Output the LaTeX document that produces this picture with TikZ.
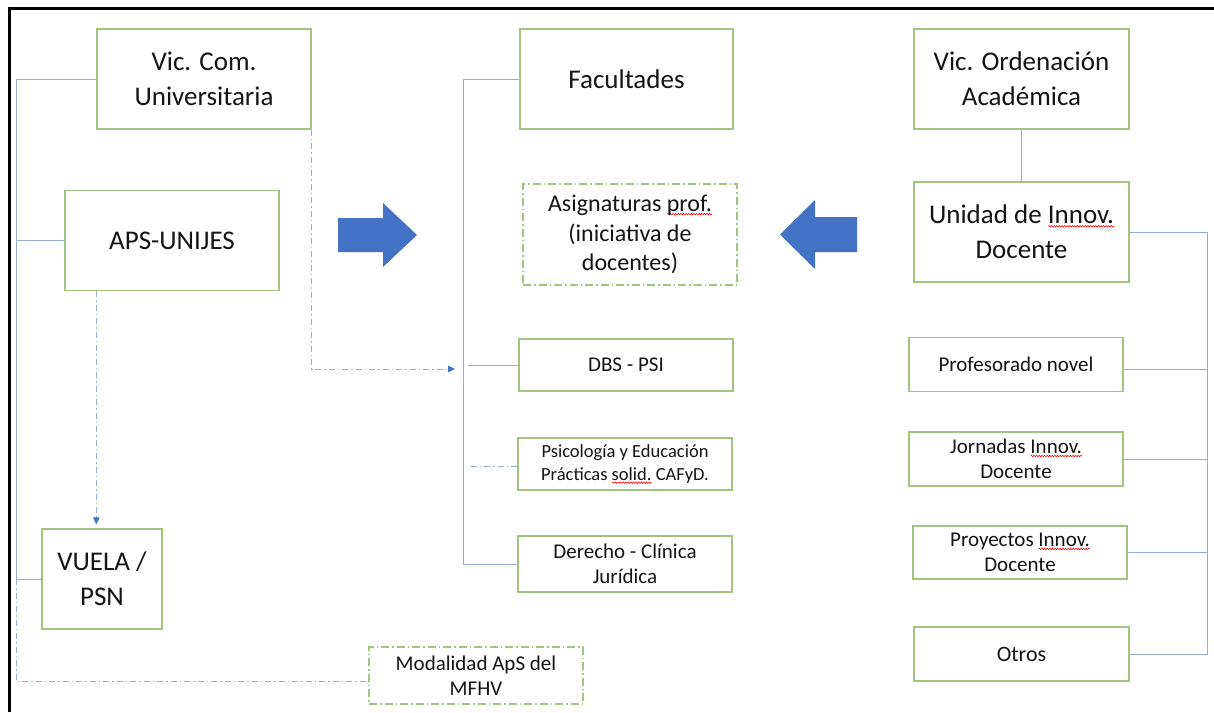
\documentclass[tikz,border=0pt]{standalone}
\usepackage{fontspec}
\setmainfont{Carlito}
\usetikzlibrary{calc,arrows.meta,decorations.pathmorphing}
\definecolor{boxgreen}{RGB}{163,196,125}
\definecolor{linkblue}{RGB}{150,172,214}
\definecolor{arrowblue}{RGB}{68,114,196}
\definecolor{txt}{RGB}{20,20,20}
\newsavebox\wavebox
\newcommand\redwave[1]{\sbox\wavebox{#1}\rlap{\raisebox{-3.6pt}{\tikz\draw[red,solid,line width=0.55pt,decorate,decoration={snake,amplitude=0.8pt,segment length=2.6pt}] (0pt,0pt) -- (\wd\wavebox,0pt);}}\usebox\wavebox}
\begin{document}
\begin{tikzpicture}[x=1pt,y=-1pt,
  box/.style={draw=boxgreen, line width=1.3pt, align=center, inner sep=0pt, text=txt},
  dbox/.style={box, line width=1.1pt, dash pattern=on 8pt off 3pt on 1.5pt off 3pt},
  conn/.style={draw=linkblue, line width=1pt},
  dconn/.style={conn, dash pattern=on 6pt off 3pt on 1.5pt off 3pt},
  tip/.style={-{Triangle[length=7pt,width=6.5pt,color=arrowblue]}},
  fbig/.style={font=\fontsize{27}{35}\selectfont},
  fmid/.style={font=\fontsize{22}{29}\selectfont},
  fasig/.style={font=\fontsize{24}{29.5}\selectfont},
  fsm/.style={font=\fontsize{21}{25.5}\selectfont},
  fxs/.style={font=\fontsize{18.5}{23}\selectfont},
  wide/.style={minimum width=214pt}]
\useasboundingbox (0,0) rectangle (1214,712);
\fill[white] (0,0) rectangle (1214,712);
\draw[line width=2.6pt] (9.5,712) -- (9.5,8.5) -- (1214,8.5);

% left column
\node[box,fbig,wide,minimum height=100pt] (vcu) at (204,79) {Vic. Com.\\Universitaria};
\node[box,fbig,wide,minimum height=100pt] (aps) at (172,240.5) {APS-UNIJES};
\node[box,fbig,minimum width=120pt,minimum height=100pt] (vuela) at (102,579) {VUELA /\\PSN};
\node[dbox,fsm,wide,minimum height=57pt] (mod) at (476,675.5) {Modalidad ApS del\\MFHV};

% middle column
\node[box,fbig,minimum width=213pt,minimum height=100pt] (fac) at (626.5,79) {Facultades};
\node[dbox,fasig,wide,minimum height=101pt] (asig) at (630,234.5) {Asignaturas \redwave{prof.}\\(iniciativa de\\docentes)};
\node[box,fsm,wide,minimum height=52pt] (dbs) at (626,365) {DBS - PSI};
\node[box,fxs,wide,minimum height=52pt] (psi) at (625,464) {Psicología y Educación\\Prácticas \redwave{solid.} CAFyD.};
\node[box,fsm,wide,minimum height=56pt] (der) at (625,564) {Derecho - Clínica\\Jurídica};

% right column
\node[box,fbig,minimum width=215pt,minimum height=100pt] (vor) at (1021.5,79) {Vic. Ordenación\\Académica};
\node[box,fbig,minimum width=215pt,minimum height=100pt] (uni) at (1021.5,232) {Unidad de \redwave{Innov.}\\Docente};
\node[box,fsm,wide,minimum height=54pt] (prof) at (1016,364.5) {Profesorado novel};
\node[box,fsm,wide,minimum height=54pt] (jor) at (1016,459) {Jornadas \redwave{Innov.}\\Docente};
\node[box,fsm,wide,minimum height=53pt] (proy) at (1020,552.5) {Proyectos \redwave{Innov.}\\Docente};
\node[box,fmid,minimum width=215pt,minimum height=54pt] (otros) at (1021.5,654) {Otros};

% big arrows
\fill[arrowblue] (338,218) -- (383,218) -- (383,203) -- (417,235) -- (383,267) -- (383,252) -- (338,252) -- cycle;
\fill[arrowblue] (857,217) -- (815,217) -- (815,200) -- (780,234.5) -- (815,269) -- (815,252) -- (857,252) -- cycle;

% connectors
\coordinate (lx) at (16,0);
\coordinate (mx) at (463,0);
\coordinate (rx) at (1207,0);
\coordinate (facin) at (455,369);

\draw[conn] (vcu.west) -- (vcu.west -| lx) -- (vuela.west -| lx) -- (vuela.west);
\draw[conn] (aps.west) -- (aps.west -| lx);
\draw[dconn,tip] (vcu.south east) |- (facin);
\draw[dconn,tip] ($(aps.south west)+(32,0)$) -- ($(vuela.north west)+(55,-4)$);
\draw[dconn] (vuela.west -| lx) -- ($(mod.west -| lx)+(0,5.5)$) -- ($(mod.west)+(0,5.5)$);

\draw[conn] (fac.west) -- (fac.west -| mx) -- (der.west -| mx) -- (der.west);
\draw[conn] (dbs.west) -- ($(dbs.west -| mx)+(5,0)$);
\draw[dconn] ($(psi.west)+(0,2)$) -- ($(psi.west -| mx)+(5,2)$);

\draw[conn] (vor.south) -- (uni.north);
\draw[conn] (uni.east) -- (uni.east -| rx) -- (otros.east -| rx) -- (otros.east);
\draw[conn] ($(prof.east)+(0,5)$) -- ($(prof.east -| rx)+(0,5)$);
\draw[conn] (jor.east) -- (jor.east -| rx);
\draw[conn] (proy.east) -- (proy.east -| rx);
\end{tikzpicture}
\end{document}
